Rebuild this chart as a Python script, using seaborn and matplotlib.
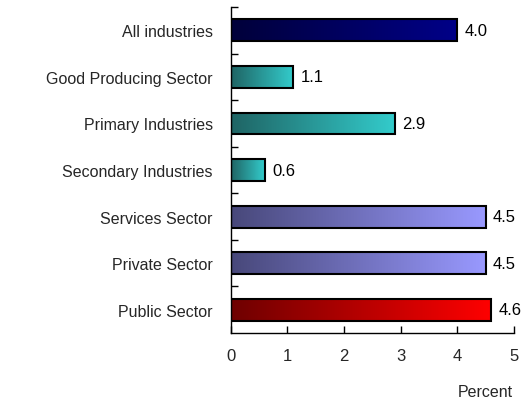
import numpy as np
import pandas as pd
import matplotlib
matplotlib.use("Agg")
import matplotlib.pyplot as plt
from matplotlib.colors import LinearSegmentedColormap
import seaborn as sns

categories = ["All industries", "Good Producing Sector", "Primary Industries",
              "Secondary Industries", "Services Sector", "Private Sector", "Public Sector"]
values = [4.0, 1.1, 2.9, 0.6, 4.5, 4.5, 4.6]
value_labels = ["4.0", "1.1", "2.9", "0.6", "4.5", "4.5", "4.6"]
x_ticks = [0, 1, 2, 3, 4, 5]
grad_start = ["#00003a", "#1f6464", "#1f6464", "#1f6464", "#48487a", "#48487a", "#6e0000"]
grad_end = ["#000088", "#33cccc", "#33cccc", "#33cccc", "#9999ff", "#9999ff", "#ff0000"]

sns.set_theme(style="white")
plt.rcParams["font.family"] = ["Liberation Sans", "DejaVu Sans"]

df = pd.DataFrame({"cat": categories, "val": values})

fig = plt.figure(figsize=(5.27, 4.02), dpi=100)
ax = fig.add_axes([0.438, 0.169, 0.537, 0.811])
sns.barplot(data=df, x="val", y="cat", orient="h", color="white",
            edgecolor="black", linewidth=1.5, width=0.47, ax=ax, zorder=3)

for i, p in enumerate(ax.patches):
    x0, y0 = p.get_x(), p.get_y()
    w, h = p.get_width(), p.get_height()
    cmap = LinearSegmentedColormap.from_list("g", [grad_start[i], grad_end[i]])
    grad = np.linspace(0, 1, 256).reshape(1, -1)
    im = ax.imshow(grad, cmap=cmap, aspect="auto",
                   extent=[x0, x0 + w, y0 + h, y0], zorder=2)
    im.set_clip_path(p)
    p.set_facecolor("none")
    ax.text(x0 + w + 0.13, y0 + h / 2, value_labels[i], va="center", ha="left",
            fontsize=12, color="black")

ax.set_xlim(0, 5)
ax.set_ylim(len(categories) - 0.5, -0.5)
ax.set_xticks(x_ticks)
ax.set_xticklabels([str(t) for t in x_ticks], fontsize=12)
ax.set_yticks(np.arange(len(categories)))
ax.set_yticklabels(categories, fontsize=11.5)
ax.tick_params(axis="y", which="major", left=False, length=0, pad=13)
ax.set_yticks(np.arange(-0.5, len(categories) - 0.5, 1), minor=True)
ax.tick_params(axis="y", which="minor", left=True, direction="in", length=5, width=1, color="black")
ax.tick_params(axis="x", bottom=True, direction="in", length=5, width=1, color="black", pad=11)
ax.set_xlabel("")
ax.set_ylabel("")
ax.text(0.90, -0.178, "Percent", transform=ax.transAxes, ha="center", va="center", fontsize=11.5)

for s in ["top", "right"]:
    ax.spines[s].set_visible(False)
for s in ["left", "bottom"]:
    ax.spines[s].set_color("black")
    ax.spines[s].set_linewidth(1)

fig.savefig("out.png", dpi=100)
